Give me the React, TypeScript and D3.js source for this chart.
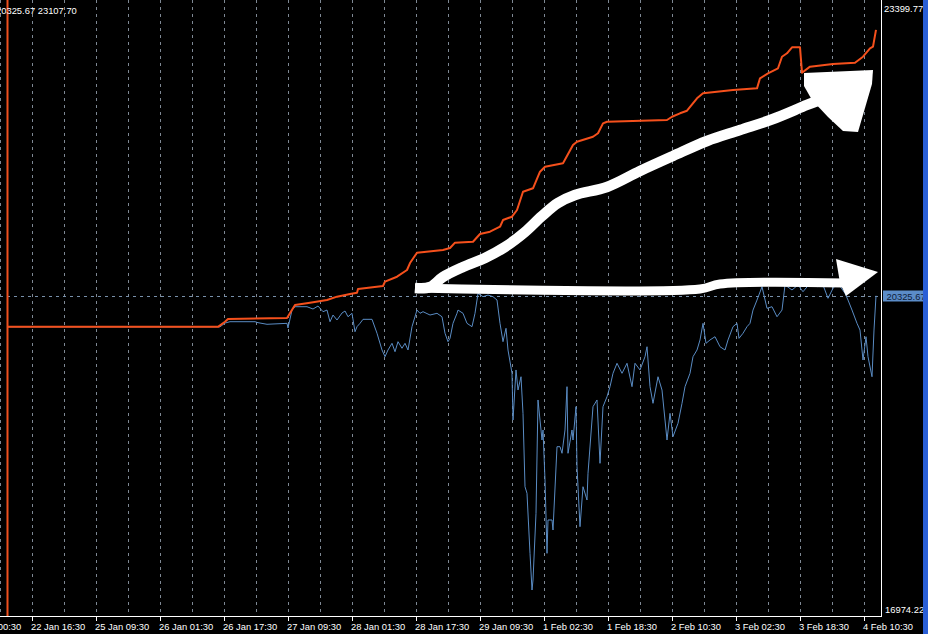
import React from "react";
import * as d3 from "d3";

// ---------- data (bar index = M30 bar, value = account money) ----------
const balanceBars = [4, 109, 112.5, 114, 143.5, 147.5, 155, 163.5, 168.5, 175, 178.5, 179, 191.5, 192.5, 198.5, 203.5, 205, 208.5, 221.5, 225, 227.5, 236.5, 240, 245, 250, 251.5, 256, 258.5, 261.5, 266.5, 270, 272.5, 281.5, 286.5, 288.5, 296.5, 299, 301.5, 303.5, 333.5, 336, 340, 343.5, 348.5, 351.5, 366.5, 378.5, 380, 384, 389, 391, 393.5, 396, 400, 401, 405, 416.5, 427.5, 431.5, 435, 436.5, 438];
const balanceValues = [20000, 20000, 20054, 20082, 20093, 20229, 20253, 20281, 20316, 20344, 20358, 20396, 20428, 20473, 20525, 20595, 20668, 20776, 20804, 20825, 20881, 20891, 20972, 20996, 21048, 21118, 21153, 21223, 21414, 21450, 21624, 21676, 21712, 21903, 21938, 21990, 22026, 22130, 22147, 22165, 22199, 22235, 22262, 22392, 22444, 22479, 22496, 22601, 22653, 22706, 22827, 22863, 22926, 22926, 22660, 22723, 22751, 22764, 22827, 22915, 22932, 23107.7];

const equityBars = [4, 110, 112.5, 115, 127.5, 129, 133.5, 143.5, 144, 146, 147.5, 153.5, 156.5, 159, 161.5, 163.5, 165, 166.5, 168.5, 171, 172.5, 174, 176, 177.5, 178.5, 180, 181.5, 186, 188.5, 191, 192.5, 194, 196, 197.5, 199, 201, 202.5, 204, 206, 208.5, 210, 211.5, 215, 218.5, 221, 222.5, 224, 225, 226.5, 228.5, 229, 231.5, 233.5, 236, 237.5, 239, 241.5, 244, 246.5, 248.5, 250, 251.5, 253, 254, 256, 256.5, 258, 259, 260.5, 261.5, 262.5, 263.5, 265, 266, 266.5, 268, 269, 270, 271, 271.5, 272.5, 273.5, 274, 276, 276.5, 278.5, 280, 281, 282.5, 283.5, 284, 286, 286.5, 288, 288.5, 290, 291.5, 293.5, 294, 296.5, 298.5, 300, 301.5, 303.5, 305, 306.5, 308.5, 311, 313.5, 316, 317.5, 320, 322.5, 323.5, 325, 326.5, 329, 331, 333.5, 335, 336.5, 339, 341, 342.5, 345, 346.5, 348.5, 350, 351.5, 353, 355, 357.5, 360, 362.5, 364, 366.5, 368.5, 369.5, 371.5, 373.5, 375, 376.5, 378.5, 381, 383.5, 386, 388.5, 391, 392.5, 396, 399, 401.5, 405, 408.5, 411.5, 414, 416.5, 419, 422.5, 424, 426, 428.5, 430, 431.5, 433, 434, 436, 437, 438];
const equityValues = [20000, 20000, 20040, 20054, 20054, 20044, 20027, 20037, 19988, 20176, 20211, 20211, 20187, 20218, 20159, 20176, 20054, 20124, 20072, 20145, 20166, 20106, 20142, 19949, 20002, 20037, 20079, 20079, 19933, 19758, 19688, 19758, 19828, 19740, 19845, 19776, 19828, 19758, 20002, 20176, 20142, 20159, 20124, 20142, 20106, 19933, 19845, 19880, 20037, 20142, 20176, 20142, 20037, 20002, 20142, 20351, 20316, 20333, 20316, 20281, 20037, 19845, 19985, 19758, 19514, 19025, 19549, 19339, 19478, 19095, 18327, 18258, 17630, 17246, 17351, 18049, 19235, 19025, 18816, 18921, 18397, 17630, 17979, 17979, 17874, 18746, 18746, 18677, 18921, 19374, 18677, 18921, 18816, 19165, 18537, 17909, 18327, 18188, 18468, 19165, 19235, 18572, 19165, 19269, 19374, 19514, 19619, 19514, 19619, 19374, 19619, 19549, 19688, 19792, 19374, 19200, 19478, 19339, 18816, 19095, 18851, 18991, 19200, 19374, 19514, 19688, 19758, 19863, 20037, 19828, 19863, 19897, 19792, 19758, 19863, 20002, 20037, 19880, 19933, 20002, 20037, 20176, 20281, 20420, 20194, 20211, 20106, 20176, 20438, 20386, 20438, 20368, 20456, 20420, 20438, 20299, 20404, 20456, 20351, 20281, 20176, 20037, 19967, 19653, 19897, 19688, 19478, 19967, 20325.67];

const tickBars = [16, 48, 80, 112, 144, 176, 208, 240, 272, 304, 336, 368, 400, 432];
const tickLabels = ["22 Jan 16:30", "25 Jan 09:30", "26 Jan 01:30", "26 Jan 17:30", "27 Jan 09:30", "28 Jan 01:30", "28 Jan 17:30", "29 Jan 09:30", "1 Feb 02:30", "1 Feb 18:30", "2 Feb 10:30", "3 Feb 02:30", "3 Feb 18:30", "4 Feb 10:30"];
const hiddenTickBar = -16;
const hiddenTickLabel = "22 Jan 00:30";
const gridBars = [0, 16, 32, 48, 64, 80, 96, 112, 128, 144, 160, 176, 192, 208, 224, 240, 256, 272, 288, 304, 320, 336, 352, 368, 384, 400, 416, 432];

const scaleMin = 16974.22;
const scaleMax = 23399.77;
const lastEquity = 20325.67;
const lastBalance = 23107.7;
const startBar = 4;
const lastBar = 438;

// hand-drawn annotation arrows, in data units (bar, value)
const arrow1Bars = [207.5, 215, 221.5, 231.5, 242.5, 252.5, 262.5, 271, 279, 287.5, 303.5, 320, 336.5, 353.5, 370, 386.5, 403.5, 410];
const arrow1Values = [20407, 20417, 20522, 20626, 20721, 20836, 20993, 21160, 21296, 21380, 21464, 21631, 21788, 21945, 22060, 22175, 22322, 22374];
const head1Bars = [402, 436.5, 436, 429, 421.5, 414, 406, 402];
const head1Values = [22657, 22688, 22542, 22039, 22050, 22196, 22374, 22521];
const arrow2Bars = [207.5, 350, 360, 422.5];
const arrow2Values = [20407, 20396, 20449, 20459];
const head2Bars = [418, 439, 423, 420];
const head2Values = [20710, 20574, 20323, 20459];

// ---------- layout ----------
const W = 928;
const H = 634;
const plotBottom = 616;
const plotTop = 2;
const plotRight = 881.5;
const FONT = "'Liberation Sans', Arial, sans-serif";
const FS = 9.4;

export default function App() {
  const x = d3.scaleLinear().domain([0, lastBar]).range([0, lastBar * 2]);
  const y = d3.scaleLinear().domain([scaleMin, scaleMax]).range([plotBottom, plotTop]);

  const line = d3
    .line<[number, number]>()
    .x((d) => x(d[0]))
    .y((d) => y(d[1]));
  const curve = d3
    .line<[number, number]>()
    .x((d) => x(d[0]))
    .y((d) => y(d[1]))
    .curve(d3.curveCatmullRom);

  const balance = balanceBars.map((b, i) => [b, balanceValues[i]] as [number, number]);
  const equity = equityBars.map((b, i) => [b, equityValues[i]] as [number, number]);
  const a1 = arrow1Bars.map((b, i) => [b, arrow1Values[i]] as [number, number]);
  const h1 = head1Bars.map((b, i) => [b, head1Values[i]] as [number, number]);
  const a2 = arrow2Bars.map((b, i) => [b, arrow2Values[i]] as [number, number]);
  const h2 = head2Bars.map((b, i) => [b, head2Values[i]] as [number, number]);

  const gridColor = "#7e8894";
  const eqY = Math.round(y(lastEquity)) + 0.5;

  return (
    <svg
      width={W}
      height={H}
      style={{ position: "fixed", left: 0, top: 0, display: "block" }}
      fontFamily={FONT}
    >
      <rect x={0} y={0} width={W} height={H} fill="#000" />

      {/* vertical grid */}
      {gridBars.map((g) => (
        <line
          key={g}
          x1={Math.round(x(g)) + 0.5}
          x2={Math.round(x(g)) + 0.5}
          y1={0}
          y2={plotBottom}
          stroke={gridColor}
          strokeWidth={1}
          strokeDasharray="3,4"
        />
      ))}
      {/* current equity level */}
      <line x1={0} x2={plotRight} y1={eqY} y2={eqY} stroke="#7890aa" strokeWidth={1} strokeDasharray="3,4" />

      {/* start marker */}
      <line x1={x(startBar) - 0.5} x2={x(startBar) - 0.5} y1={0} y2={plotBottom} stroke="#f0501e" strokeWidth={2} />

      {/* equity */}
      <path d={line(equity) || ""} fill="none" stroke="#5a8cc4" strokeWidth={1} />
      {/* balance */}
      <path d={line(balance) || ""} fill="none" stroke="#f5501c" strokeWidth={2} strokeLinejoin="round" />

      {/* annotation arrows */}
      <path d={curve(a2) || ""} fill="none" stroke="#fff" strokeWidth={9} strokeLinejoin="round" />
      <path d={line(h2) + "Z"} fill="#fff" />
      <path d={curve(a1) || ""} fill="none" stroke="#fff" strokeWidth={10.5} strokeLinejoin="round" />
      <path d={line(h1) + "Z"} fill="#fff" />

      {/* axes frame */}
      <line x1={0} x2={plotRight} y1={plotBottom + 0.5} y2={plotBottom + 0.5} stroke="#fff" strokeWidth={1} />
      <line x1={plotRight} x2={plotRight} y1={0} y2={plotBottom + 1} stroke="#fff" strokeWidth={1} />

      {/* x ticks */}
      {tickBars.map((t, i) => (
        <g key={t}>
          <line
            x1={Math.round(x(t)) + 0.5}
            x2={Math.round(x(t)) + 0.5}
            y1={plotBottom}
            y2={plotBottom + 5}
            stroke="#fff"
          />
          <text x={x(t) - 1} y={630} fontSize={FS} fill="#fff">
            {tickLabels[i]}
          </text>
        </g>
      ))}
      <text x={x(hiddenTickBar) - 1} y={630} fontSize={FS} fill="#fff">
        {hiddenTickLabel}
      </text>

      {/* right scale */}
      <text x={884} y={11.5} fontSize={FS} fill="#fff">
        {scaleMax.toFixed(2)}
      </text>
      <text x={885} y={613} fontSize={FS} fill="#fff">
        {scaleMin.toFixed(2)}
      </text>
      <rect x={883} y={eqY - 6} width={45} height={11} fill="#5b8cc8" />
      <text x={886.5} y={eqY + 3.5} fontSize={FS} fill="#0e1d3a">
        {lastEquity.toFixed(2)}
      </text>

      {/* top-left info */}
      <text x={-4} y={13.5} fontSize={FS} fill="#fff">
        {lastEquity.toFixed(2) + " " + lastBalance.toFixed(2)}
      </text>

      {/* window edge */}
      <rect x={923} y={0} width={5} height={H} fill="#2a5fd6" />
    </svg>
  );
}
